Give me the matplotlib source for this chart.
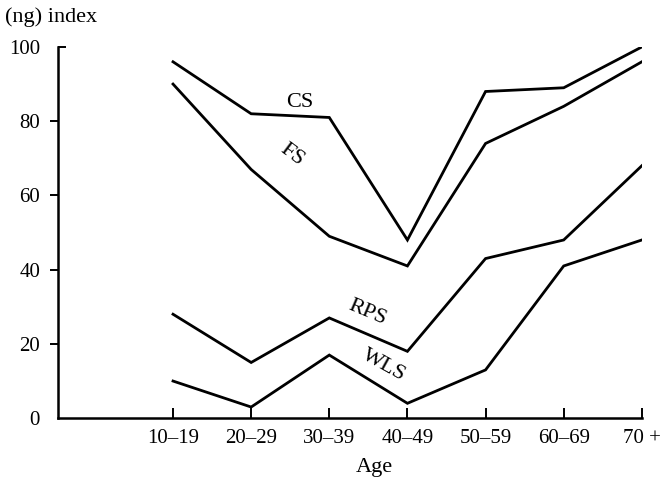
import matplotlib.pyplot as plt
from matplotlib.lines import TICKRIGHT

plt.rcParams['font.family'] = ['Liberation Serif', 'DejaVu Serif']

ages = ["10–19", "20–29", "30–39", "40–49", "50–59", "60–69", "70 +"]
cs = [96, 82, 81, 48, 88, 89, 100]
fs = [90, 67, 49, 41, 74, 84, 96]
rps = [28, 15, 27, 18, 43, 48, 68]
wls = [10, 3, 17, 4, 13, 41, 48]
yticks = [0, 20, 40, 60, 80, 100]

fig = plt.figure(figsize=(6.61, 4.79), dpi=100)
ax = fig.add_axes([0.088, 0.127, 0.883, 0.775])

x = list(range(len(ages)))
for series in (cs, fs, rps, wls):
    ax.plot(x, series, color="black", lw=2.0, solid_joinstyle="miter")

ax.set_xlim(-1.47, 6)
ax.set_ylim(0, 100)

for side in ("top", "right"):
    ax.spines[side].set_visible(False)
for side in ("left", "bottom"):
    ax.spines[side].set_linewidth(1.8)

ax.set_xticks(x)
ax.set_xticklabels(ages, fontsize=15)
ax.tick_params(axis="x", direction="in", length=7, width=1.4, pad=8)
ax.set_yticks(yticks)
ax.set_yticklabels([str(v) for v in yticks], fontsize=15)
ax.tick_params(axis="y", direction="out", length=6, width=1.4, pad=7)

# no tick mark at zero, and the top one turns inwards
ytk = ax.yaxis.get_major_ticks()
ytk[0].tick1line.set_visible(False)
ytk[-1].tick1line.set_marker(TICKRIGHT)

# curve names written along the lines
ax.text(1.62, 85, "CS", fontsize=16, ha="center", va="center")
ax.text(1.52, 71, "FS", fontsize=16, ha="center", va="center", rotation=-37)
ax.text(2.49, 28.5, "RPS", fontsize=16, ha="center", va="center", rotation=-23)
ax.text(2.69, 14.3, "WLS", fontsize=16, ha="center", va="center", rotation=-29)

fig.text(0.008, 0.965, "(ng) index", fontsize=16, ha="left", va="center")
fig.text(0.567, 0.025, "Age", fontsize=16, ha="center", va="center")

fig.savefig("out.png", dpi=100)
